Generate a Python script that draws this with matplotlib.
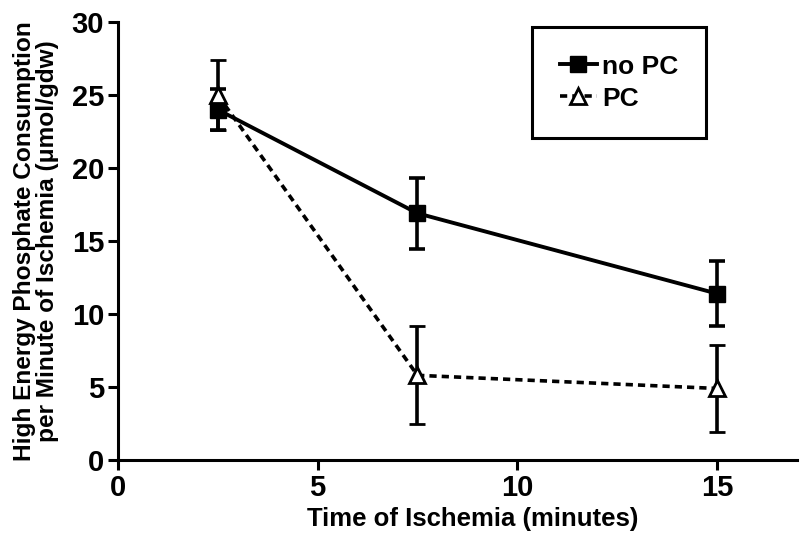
import numpy as np
import matplotlib.pyplot as plt

plt.rcParams['font.family'] = ['Liberation Sans', 'DejaVu Sans']
plt.rcParams['font.weight'] = 'bold'

times = [2.5, 7.5, 15]
nopc_mean = [24.0, 16.9, 11.4]
nopc_err = [1.4, 2.45, 2.2]
pc_mean = [25.0, 5.8, 4.9]
pc_err = [2.4, 3.35, 3.0]

fig = plt.figure(figsize=(8, 5.39), dpi=100)
ax = fig.add_axes([0.1475, 0.1466, 0.8485, 0.8124])

eb1 = ax.errorbar(times, nopc_mean, yerr=nopc_err, color='black', lw=2.8, ls='-',
                  marker='s', markersize=11, capsize=6, capthick=2.6, elinewidth=2.6,
                  label='no PC', zorder=3)
eb2 = ax.errorbar(times, pc_mean, yerr=pc_err, color='black', lw=2.6, ls=(0, (2.0, 1.4)),
                  marker='^', markersize=12, markerfacecolor='white', markeredgewidth=2,
                  capsize=6, capthick=2.6, elinewidth=2.6, label='PC', zorder=4)

ax.set_xlim(0, 17)
ax.set_ylim(0, 30)
ax.set_xticks([0, 5, 10, 15])
ax.set_yticks([0, 5, 10, 15, 20, 25, 30])
for s in ['top', 'right']:
    ax.spines[s].set_visible(False)
for s in ['left', 'bottom']:
    ax.spines[s].set_linewidth(2.2)
ax.tick_params(axis='both', width=2.2, length=7, labelsize=21, pad=3)

ax.set_xlabel('Time of Ischemia (minutes)', fontsize=18.5, fontweight='bold')
ax.xaxis.set_label_coords(0.523, -0.107)
ax.set_ylabel('High Energy Phosphate Consumption\nper Minute of Ischemia (\u03bcmol/gdw)',
              fontsize=17.6, fontweight='bold', linespacing=1.0)
ax.yaxis.set_label_coords(-0.087, 0.5)

leg = ax.legend([eb1.lines[0], eb2.lines[0]], ['no PC', 'PC'],
                loc='upper left', bbox_to_anchor=(0.665, 0.95), bbox_transform=fig.transFigure,
                fontsize=19, numpoints=1, handlelength=1.4, borderpad=1.05,
                labelspacing=0.3, handletextpad=0.2, borderaxespad=0,
                fancybox=False, edgecolor='black', framealpha=1)
leg.get_frame().set_linewidth(2.2)

fig.savefig('out.png', dpi=100)
